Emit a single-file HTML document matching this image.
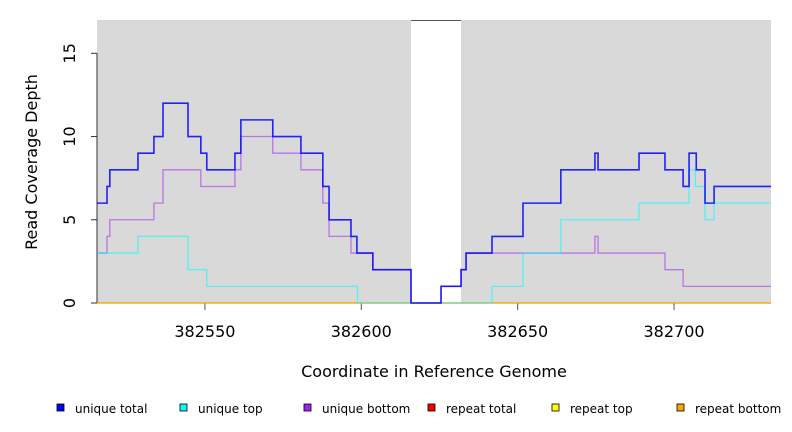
<!DOCTYPE html>
<html><head><meta charset="utf-8"><style>
body{margin:0;background:#fff;}
svg{display:block;font-family:"DejaVu Sans","Liberation Sans",sans-serif;}
</style></head><body>
<svg id="chart" width="792" height="432" viewBox="0 0 792 432">
<g id="bg"></g>
<g id="axes"></g>
<g id="series"></g>
<text x="434" y="377" font-size="16" text-anchor="middle">Coordinate in Reference Genome</text>
<text transform="translate(37,162) rotate(-90)" font-size="16" text-anchor="middle">Read Coverage Depth</text>
<g id="legend"></g>
</svg>
<script>
const xDomain=[382515.5,382731];
const gapRange=[382615.9,382631.9];
const xTicks=[382550,382600,382650,382700];
const yTicks=[0,5,10,15];
const totalX=[382515.5,382518.7,382519.6,382528.6,382533.7,382536.6,382544.6,382548.7,382550.6,382559.6,382561.5,382571.7,382580.7,382587.7,382589.7,382596.7,382598.6,382603.7,382615.9,382625.5,382631.9,382633.5,382641.8,382651.7,382663.8,382674.7,382675.7,382688.8,382697.1,382702.9,382704.8,382707.1,382709.9,382712.8];
const totalY=[6,7,8,9,10,12,10,9,8,9,11,10,9,7,5,4,3,2,0,1,2,3,4,6,8,9,8,9,8,7,9,8,6,7];
const topX=[382515.5,382528.6,382544.6,382550.6,382598.8,382641.8,382651.7,382663.8,382688.8,382704.8,382706.8,382709.9,382712.8];
const topY=[3,4,2,1,0,1,3,5,6,8,7,5,6];
const botX=[382515.5,382518.7,382519.6,382533.7,382536.6,382548.7,382559.6,382561.5,382571.7,382580.7,382587.7,382589.7,382596.7,382603.7,382615.9,382625.5,382631.9,382633.5,382674.7,382675.7,382697.1,382702.9];
const botY=[3,4,5,6,8,7,8,10,9,8,6,4,3,2,0,1,2,3,4,3,2,1];
const legendLabels=["unique total","unique top","unique bottom","repeat total","repeat top","repeat bottom"];
const legendColors=["#0000ff","#00ffff","#a020f0","#ff0000","#ffff00","#ffa500"];

const L=97,R=771,T=20,B=303,yMax=17;
const sx=v=>L+(v-xDomain[0])/(xDomain[1]-xDomain[0])*(R-L);
const sy=v=>B-v/yMax*(B-T);
const NS="http://www.w3.org/2000/svg";
function mk(tag,parent,attrs){const e=document.createElementNS(NS,tag);for(const k in attrs)e.setAttribute(k,attrs[k]);parent.appendChild(e);return e;}
const bg=document.getElementById('bg');
let r1=mk('rect',bg,{x:L,y:T,width:sx(gapRange[0])-L,height:B-T,fill:'#d9d9d9'});


let r2=mk('rect',bg,{x:sx(gapRange[1]),y:T,width:R-sx(gapRange[1]),height:B-T,fill:'#d9d9d9'});


let gl=mk('line',bg,{x1:sx(gapRange[0]),x2:sx(gapRange[1]),y1:T+0.5,y2:T+0.5,stroke:'#555','stroke-width':1});



const ax=document.getElementById('axes');
mk('line',ax,{x1:L,x2:L,y1:sy(15),y2:B,stroke:'#333'});
yTicks.forEach(t=>{
  const y=sy(t);
  mk('line',ax,{x1:L-6,x2:L,y1:y,y2:y,stroke:'#333'});
  const tx=mk('text',ax,{transform:`translate(75,${y}) rotate(-90)`,'font-size':16,'text-anchor':'middle'});
  
  
  tx.textContent=t;
});
xTicks.forEach(t=>{
  const x=sx(t);
  mk('line',ax,{x1:x,x2:x,y1:B,y2:B+7,stroke:'#555'});
  const tx=mk('text',ax,{x:x,y:337,'font-size':16,'text-anchor':'middle'});
  
  
  tx.textContent=t;
});

const sg=document.getElementById('series');
function step(xs,ys,color,name,w,op){
  let d=`M${sx(xs[0])},${sy(ys[0])}`;
  for(let i=1;i<xs.length;i++){d+=`H${sx(xs[i])}V${sy(ys[i])}`;}
  d+=`H${R}`;
  const p=mk('path',sg,{d:d,fill:'none',stroke:color,'stroke-width':w,'stroke-opacity':op});
  
  
}
const zx=[xDomain[0]],zy=[0];
step(zx,zy,'#ff0000','repeat-total-line',1.2,0.6);
step(zx,zy,'#ffff00','repeat-top-line',1.2,0.6);
step(zx,zy,'#ffa500','repeat-bottom-line',1.2,0.8);
step(botX,botY,'#a020f0','unique-bottom-line',1.3,0.55);
step(topX,topY,'#00ffff','unique-top-line',1.3,0.6);
step(totalX,totalY,'#0000ff','unique-total-line',1.6,0.85);

const lg=document.getElementById('legend');
const lx=[57,180,304,428,552,677];
legendLabels.forEach((lab,i)=>{
  const g=mk('g',lg,{});
  
  
  mk('rect',g,{x:lx[i],y:404,width:7,height:7,fill:legendColors[i],stroke:'#000','stroke-width':0.8});
  const t=mk('text',g,{x:lx[i]+18,y:413,'font-size':12});
  t.textContent=lab;
});
</script>
</body></html>
